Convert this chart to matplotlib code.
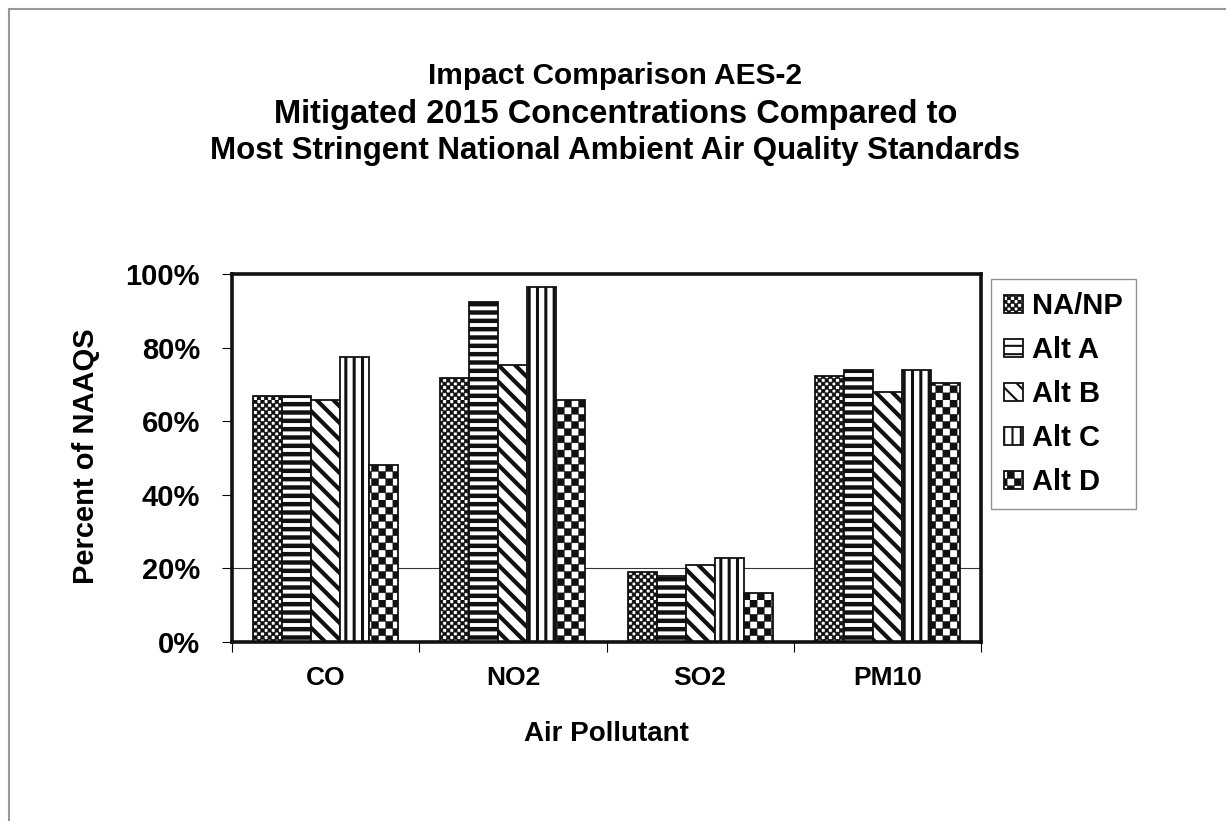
import numpy as np
import matplotlib
matplotlib.use('Agg')
import matplotlib.pyplot as plt
import matplotlib.hatch as mhatch
from matplotlib.path import Path
from matplotlib.patches import Rectangle
from matplotlib.ticker import PercentFormatter

categories = ['CO', 'NO2', 'SO2', 'PM10']
series_names = ['NA/NP', 'Alt A', 'Alt B', 'Alt C', 'Alt D']
na_np = [0.668, 0.718, 0.191, 0.723]
alt_a = [0.668, 0.925, 0.179, 0.739]
alt_b = [0.658, 0.753, 0.209, 0.678]
alt_c = [0.775, 0.964, 0.229, 0.739]
alt_d = [0.481, 0.658, 0.134, 0.703]
series_values = [na_np, alt_a, alt_b, alt_c, alt_d]
grid_level = 0.20


class CheckerHatch(mhatch.HatchPatternBase):
    # filled checkerboard, '*' = coarse, '**' = fine
    def __init__(self, hatch, density):
        self.num_cells = 14 * hatch.count('*')
        self.num_vertices = (self.num_cells ** 2 // 2) * 5

    def set_vertices_and_codes(self, vertices, codes):
        n = self.num_cells
        step = 1.0 / n
        square = np.array([[0, 0], [1, 0], [1, 1], [0, 1], [0, 0]]) * step
        sq_codes = [Path.MOVETO, Path.LINETO, Path.LINETO, Path.LINETO, Path.CLOSEPOLY]
        k = 0
        for i in range(n):
            for j in range(n):
                if (i + j) % 2 == 0:
                    vertices[k:k + 5] = square + [i * step, j * step]
                    codes[k:k + 5] = sq_codes
                    k += 5


mhatch._hatch_types = [t for t in mhatch._hatch_types if t is not mhatch.Stars] + [CheckerHatch]

plt.rcParams['font.family'] = ['Liberation Sans', 'DejaVu Sans']
plt.rcParams['font.weight'] = 'bold'

hatches = ['**', '--', '\\\\', '||', '*']
hatch_widths = [0.4, 3.2, 3.0, 2.2, 0.3]

fig = plt.figure(figsize=(12.26, 8.21), dpi=100)
ax = fig.add_axes([232 / 1226, 1 - 642 / 821, 749 / 1226, 368 / 821])

x = np.arange(len(categories))
bar_w = 0.155
for i, (name, vals) in enumerate(zip(series_names, series_values)):
    bars = ax.bar(x + (i - 2) * bar_w, vals, bar_w, color='white', edgecolor='#111111',
                  linewidth=1.3, hatch=hatches[i], label=name, zorder=2)
    for b in bars:
        if hasattr(b, 'set_hatch_linewidth'):
            b.set_hatch_linewidth(hatch_widths[i])

ax.axhline(grid_level, color='#333333', linewidth=0.8, zorder=1)

ax.set_xlim(-0.5, len(categories) - 0.5)
ax.set_ylim(0, 1)
ax.set_yticks(np.arange(0, 1.01, 0.2))
ax.yaxis.set_major_formatter(PercentFormatter(1.0, decimals=0))
ax.tick_params(axis='y', labelsize=21, length=7, width=0.8, pad=16)

ax.set_xticks(x)
ax.set_xticklabels(categories)
ax.set_xticks(np.arange(-0.5, len(categories)), minor=True)
ax.tick_params(axis='x', which='major', length=0, labelsize=19, pad=17)
ax.tick_params(axis='x', which='minor', length=7, width=0.8)

for s in ax.spines.values():
    s.set_linewidth(2.6)
    s.set_color('#111111')

ax.set_ylabel('Percent of NAAQS', fontsize=21, fontweight='bold')
ax.yaxis.set_label_coords(-0.176, 0.505)
ax.set_xlabel('Air Pollutant', fontsize=20, fontweight='bold')
ax.xaxis.set_label_coords(0.5, -0.215)

leg = fig.legend(loc='upper left', bbox_to_anchor=(991 / 1226, 1 - 279 / 821),
                 borderaxespad=0, fontsize=21, fancybox=False, edgecolor='#777777',
                 handlelength=0.65, handleheight=0.55, handletextpad=0.3,
                 labelspacing=0.55, borderpad=0.45)
leg.get_frame().set_linewidth(1.0)
for h, lw in zip(leg.legend_handles, hatch_widths):
    if hasattr(h, 'set_hatch_linewidth'):
        h.set_hatch_linewidth(min(lw, 1.5))

fig.text(0.502, 1 - 76 / 821, 'Impact Comparison AES-2', ha='center', va='center',
         fontsize=21.5, fontweight='bold')
fig.text(0.502, 1 - 114 / 821, 'Mitigated 2015 Concentrations Compared to',
         ha='center', va='center', fontsize=23.5, fontweight='bold')
fig.text(0.502, 1 - 151 / 821, 'Most Stringent National Ambient Air Quality Standards',
         ha='center', va='center', fontsize=22.5, fontweight='bold')

# outer chart border (runs off the right and bottom edges)
fig.add_artist(Rectangle((9 / 1226, -0.1), 1.2, 1.1 - 9 / 821, transform=fig.transFigure,
                         fill=False, edgecolor='#999999', linewidth=1.5))

fig.savefig('out.png', dpi=100)
